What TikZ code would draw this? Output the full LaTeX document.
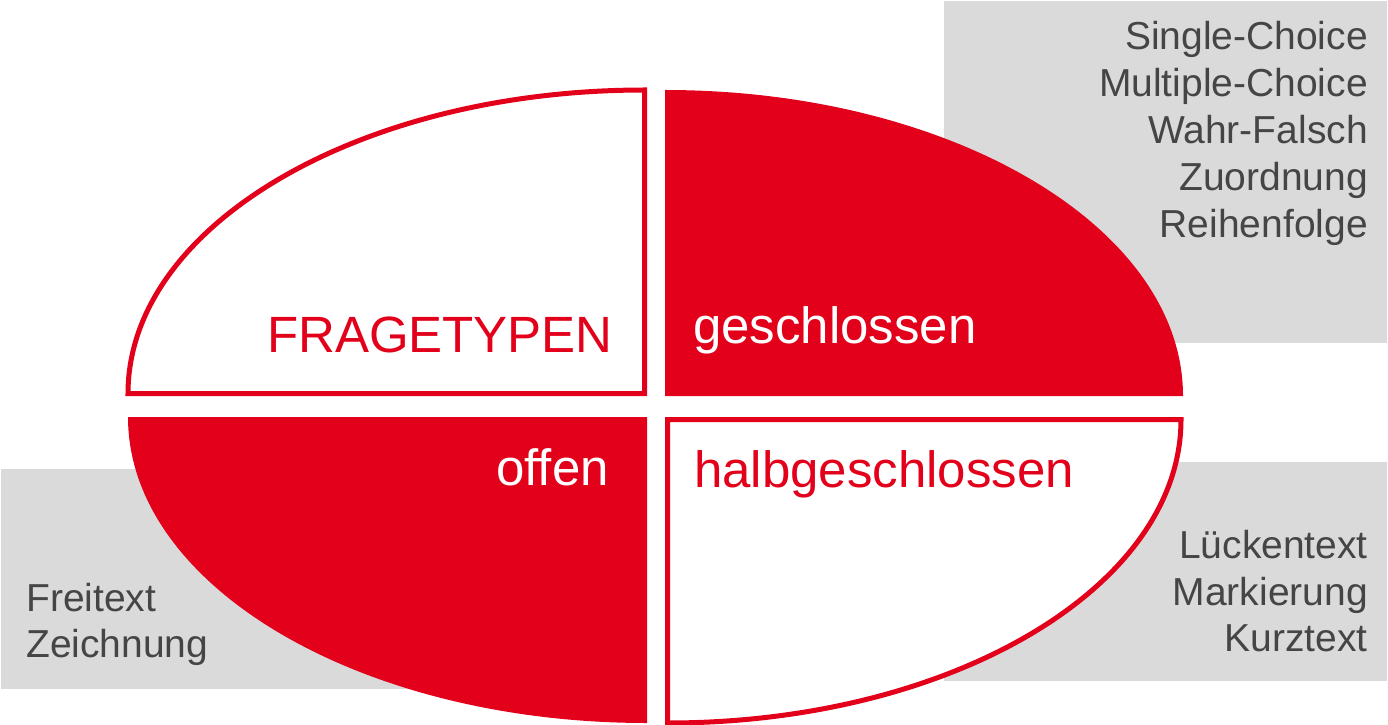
\documentclass[tikz,border=0pt]{standalone}
\usepackage{fontspec}
\setmainfont{Liberation Sans}
\usepackage{tikz}

\definecolor{qred}{HTML}{E2001A}
\definecolor{qgray}{HTML}{DADADA}
\definecolor{qtext}{HTML}{454545}

\begin{document}
\begin{tikzpicture}[x=1pt,y=1pt]
        \tikzstyle{every node}+=[inner sep=0pt]
        \tikzstyle{bigtext}=[font=\fontsize{51}{60}\selectfont]
        \tikzstyle{listtext}=[font=\fontsize{39}{47}\selectfont, text=qtext]
        \tikzstyle{openpart}=[draw=qred, line width=5pt, fill=white, line join=miter]
        \useasboundingbox (0,0) rectangle (1388,724);
        % grey boxes
        \fill [qgray] (944,381) rectangle (1387,723);
        \fill [qgray] (944,43) rectangle (1387,262);
        \fill [qgray] (1,35) rectangle (500,255);
        % four quarters
        \draw [openpart] (644.5,330.5) -- ++(-516.5,0) arc[start angle=180, end angle=90, x radius=516.5, y radius=303.5] -- cycle;
        \fill [qred] (665,328) -- ++(518,0) arc[start angle=0, end angle=90, x radius=518, y radius=306] -- cycle;
        \fill [qred] (647,307) -- ++(-519,0) arc[start angle=180, end angle=270, x radius=519, y radius=306] -- cycle;
        \draw [openpart] (667.5,304.5) -- ++(513.5,0) arc[start angle=0, end angle=-90, x radius=513.5, y radius=303.5] -- cycle;
        % labels
        \node [bigtext, text=qred, anchor=base east] (types) at (613,372) {FRAGETYPEN};
        \node [bigtext, text=white, anchor=base west] (closed) at (693,381) {geschlossen};
        \node [bigtext, text=white, anchor=base east] (open) at (609,239) {offen};
        \node [bigtext, text=qred, anchor=base west] (halfclosed) at (694,237) {halbgeschlossen};
        % lists
        \foreach \t [count=\i] in {Single-Choice,Multiple-Choice,Wahr-Falsch,Zuordnung,Reihenfolge}
            \node [listtext, anchor=base east] (closed\i) at (1368,721-47*\i) {\t};
        \foreach \t [count=\i] in {Lückentext,Markierung,Kurztext}
            \node [listtext, anchor=base east] (half\i) at (1368,212-46.5*\i) {\t};
        \foreach \t [count=\i] in {Freitext,Zeichnung}
            \node [listtext, anchor=base west] (open\i) at (26,159-46*\i) {\t};
\end{tikzpicture}
\end{document}
